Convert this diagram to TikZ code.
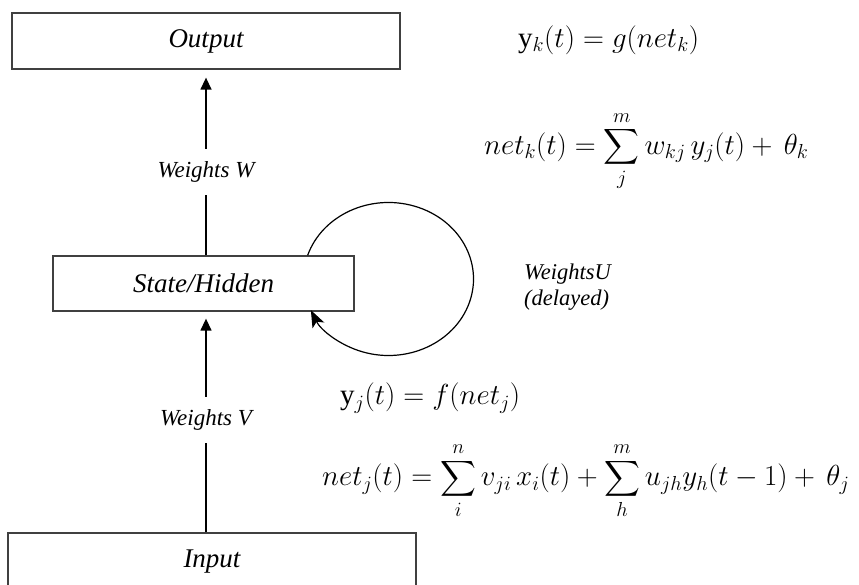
\RequirePackage{fix-cm}
\documentclass[tikz,border=0pt]{standalone}
\usepackage{amsmath}
\usepackage{exscale}
\usepackage{fontspec}
\setmainfont{Liberation Serif}
\newfontfamily\lblfont{Liberation Serif}
\usetikzlibrary{arrows.meta,calc}
\begin{document}
\begin{tikzpicture}[x=1pt,y=-1pt,
  box/.style={draw=black!75,line width=1.3pt,inner sep=0pt,font=\lblfont\itshape\fontsize{27}{32}\selectfont},
  lbl/.style={inner sep=0pt,minimum height=46pt,font=\lblfont\itshape\fontsize{23}{27}\selectfont},
  conn/.style={line width=1.4pt,black},
  arr/.style={conn,-{Triangle[length=12pt,width=11pt]}},
  looparr/.style={conn,line width=1.2pt,-{Stealth[length=17pt,width=13pt,inset=4pt]}},
  eq/.style={inner sep=0pt,anchor=west,font=\fontsize{29}{34}\selectfont}]
\useasboundingbox (0,0) rectangle (859,584);
% boxes
\node[box,minimum width=388pt,minimum height=56pt] (out) at (206,41) {Output};
\node[box,minimum width=301pt,minimum height=55pt] (state) at (203.5,283.5) {State/Hidden};
\node[box,minimum width=408pt,minimum height=58pt] (in) at (212,562) {Input};
% labels
\node[lbl] (wW) at (206,172) {Weights W};
\node[lbl] (wV) at (206,420) {Weights V};
\node[inner sep=0pt,anchor=west,align=left,font=\lblfont\itshape\fontsize{22.5}{26}\selectfont] (wU) at (524,287) {WeightsU\\(delayed)};
% connectors
\draw[conn] (state.north -| wW) -- (wW);
\draw[arr,shorten >=8pt] (wW) -- (out.south -| wW);
\draw[conn] (in.north -| wV) -- (wV);
\draw[arr,shorten >=7pt] (wV) -- (state.south -| wV);
\draw[looparr] ($(state.north east)+(-47pt,0pt)$) arc[start angle=162,end angle=-156,x radius=85pt,y radius=76.5pt];
% equations
\node[eq] (e1) at (518,40) {$\mathrm{y}_k(t) = g(net_k)$};
\node[eq] (e2) at (484,151) {$net_k(t) = \displaystyle\sum_{j}^{m} w_{kj}\, y_j(t) + \,\theta_k$};
\node[eq] (e3) at (340,398) {$\mathrm{y}_j(t) = f(net_j)$};
\node[eq] (e4) at (322,481) {$net_j(t) = \displaystyle\sum_{i}^{n} v_{ji}\, x_i(t) + \sum_{h}^{m} u_{jh} y_h(t-1) + \,\theta_j$};
\end{tikzpicture}
\end{document}
